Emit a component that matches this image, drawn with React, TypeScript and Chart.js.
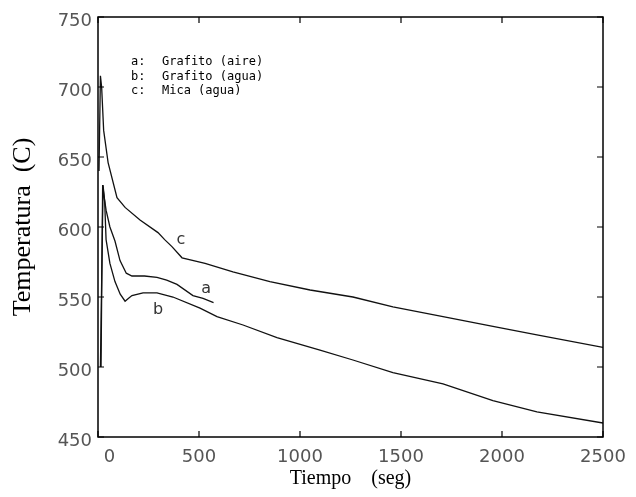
import { useEffect, useRef } from 'react';
import { Chart, registerables } from 'chart.js';
Chart.register(...registerables);

// Tick definitions
const xMin = 0;
const xMax = 2500;
const xStep = 500;
const yMin = 450;
const yMax = 750;
const yStep = 50;

// Series a: Grafito (aire)
const aTime = [15, 23, 30, 40, 59, 84, 109, 140, 168, 230, 292, 340, 391, 470, 520, 572];
const aTemp = [500, 630, 622, 612, 600, 590, 576, 567, 565, 565, 564, 562, 559, 551, 549, 546];

// Series b: Grafito (agua)
const bTime = [12, 25, 33, 40, 59, 84, 110, 134, 150, 168, 223, 292, 371, 505, 589, 718, 886, 1099, 1262, 1460, 1708, 1955, 2173, 2500];
const bTemp = [500, 630, 618, 591, 574, 561, 552, 547, 549, 551, 553, 553, 550, 542, 536, 530, 521, 512, 505, 496, 488, 476, 468, 460];

// Series c: Mica (agua)
const cTime = [5, 12, 18, 28, 50, 94, 134, 208, 297, 330, 366, 416, 530, 668, 851, 1050, 1262, 1460, 1708, 1955, 2173, 2500];
const cTemp = [640, 708, 700, 669, 646, 621, 614, 605, 596, 591, 586, 578, 574, 568, 561, 555, 550, 543, 536, 529, 523, 514];

// Legend lines
const legendKeys = ['a:', 'b:', 'c:'];
const legendNames = ['Grafito (aire)', 'Grafito (agua)', 'Mica (agua)'];

// Curve labels (data positions)
const curveLabels = ['a', 'b', 'c'];
const curveLabelTime = [535, 297, 411];
const curveLabelTemp = [556, 541, 591];

const toPoints = (t: number[], v: number[]) => t.map((x, i) => ({ x, y: v[i] }));

export default function App() {
  const ref = useRef<HTMLCanvasElement | null>(null);

  useEffect(() => {
    const overlay = {
      id: 'overlay',
      afterDraw(chart: any) {
        const ctx = chart.ctx as CanvasRenderingContext2D;
        const { left, right, top, bottom } = chart.chartArea;
        const xs = chart.scales.x;
        const ys = chart.scales.y;
        ctx.save();
        ctx.strokeStyle = '#000';
        ctx.lineWidth = 1.5;
        ctx.strokeRect(left, top, right - left, bottom - top);
        ctx.lineWidth = 1.2;
        const tl = 6;
        ctx.beginPath();
        for (let v = xMin; v <= xMax; v += xStep) {
          const px = xs.getPixelForValue(v);
          ctx.moveTo(px, bottom);
          ctx.lineTo(px, bottom - tl);
          ctx.moveTo(px, top);
          ctx.lineTo(px, top + tl);
        }
        for (let v = yMin; v <= yMax; v += yStep) {
          const py = ys.getPixelForValue(v);
          ctx.moveTo(left, py);
          ctx.lineTo(left + tl, py);
          ctx.moveTo(right, py);
          ctx.lineTo(right - tl, py);
        }
        ctx.stroke();

        // legend text
        ctx.fillStyle = '#000';
        ctx.font = '12px "DejaVu Sans Mono"';
        ctx.textBaseline = 'middle';
        ctx.textAlign = 'left';
        legendKeys.forEach((k, i) => {
          const y = top + 45 + i * 14.5;
          ctx.fillText(k, left + 33, y);
          ctx.fillText(legendNames[i], left + 64, y);
        });

        // curve labels
        ctx.fillStyle = '#333';
        ctx.font = '16px "DejaVu Sans"';
        ctx.textAlign = 'center';
        curveLabels.forEach((l, i) => {
          ctx.fillText(l, xs.getPixelForValue(curveLabelTime[i]), ys.getPixelForValue(curveLabelTemp[i]));
        });
        ctx.restore();
      },
    };

    const ds = (t: number[], v: number[]) => ({
      data: toPoints(t, v),
      borderColor: '#111',
      borderWidth: 1.3,
      pointRadius: 0,
      fill: false,
      tension: 0,
    });

    const chart = new Chart(ref.current as HTMLCanvasElement, {
      type: 'line',
      data: { datasets: [ds(aTime, aTemp), ds(bTime, bTemp), ds(cTime, cTemp)] as any },
      options: {
        animation: false,
        responsive: false,
        maintainAspectRatio: false,
        layout: { padding: { left: 0, top: 17, right: 33, bottom: 0 } },
        plugins: { legend: { display: false }, tooltip: { enabled: false } },
        scales: {
          x: {
            type: 'linear',
            min: xMin,
            max: xMax,
            grid: { display: false, drawTicks: false },
            border: { display: false },
            ticks: {
              stepSize: xStep,
              padding: 10,
              color: '#555',
              font: { family: '"DejaVu Sans"', size: 18 },
              maxRotation: 0,
              callback: (v: any) => (Number(v) === 0 ? '    0' : String(v)),
            },
            title: {
              display: true,
              text: 'Tiempo    (seg)',
              color: '#000',
              font: { family: '"Liberation Serif"', size: 20 },
              padding: { top: 0, bottom: 6 },
            },
            afterFit: (s: any) => {
              s.height = 60;
            },
          },
          y: {
            type: 'linear',
            min: yMin,
            max: yMax,
            grid: { display: false, drawTicks: false },
            border: { display: false },
            ticks: {
              stepSize: yStep,
              padding: 6,
              labelOffset: 4,
              color: '#555',
              font: { family: '"DejaVu Sans"', size: 18 },
            },
            title: {
              display: true,
              text: 'Temperatura  (C)',
              color: '#000',
              font: { family: '"Liberation Serif"', size: 26 },
              padding: { top: 8, bottom: 0 },
            },
            afterFit: (s: any) => {
              s.width = 98;
            },
          },
        },
      } as any,
      plugins: [overlay],
    });
    return () => chart.destroy();
  }, []);

  return (
    <div style={{ position: 'absolute', left: 0, top: 0, width: 636, height: 497, background: '#fff' }}>
      <canvas ref={ref} width={636} height={497} style={{ width: 636, height: 497, display: 'block' }} />
    </div>
  );
}
